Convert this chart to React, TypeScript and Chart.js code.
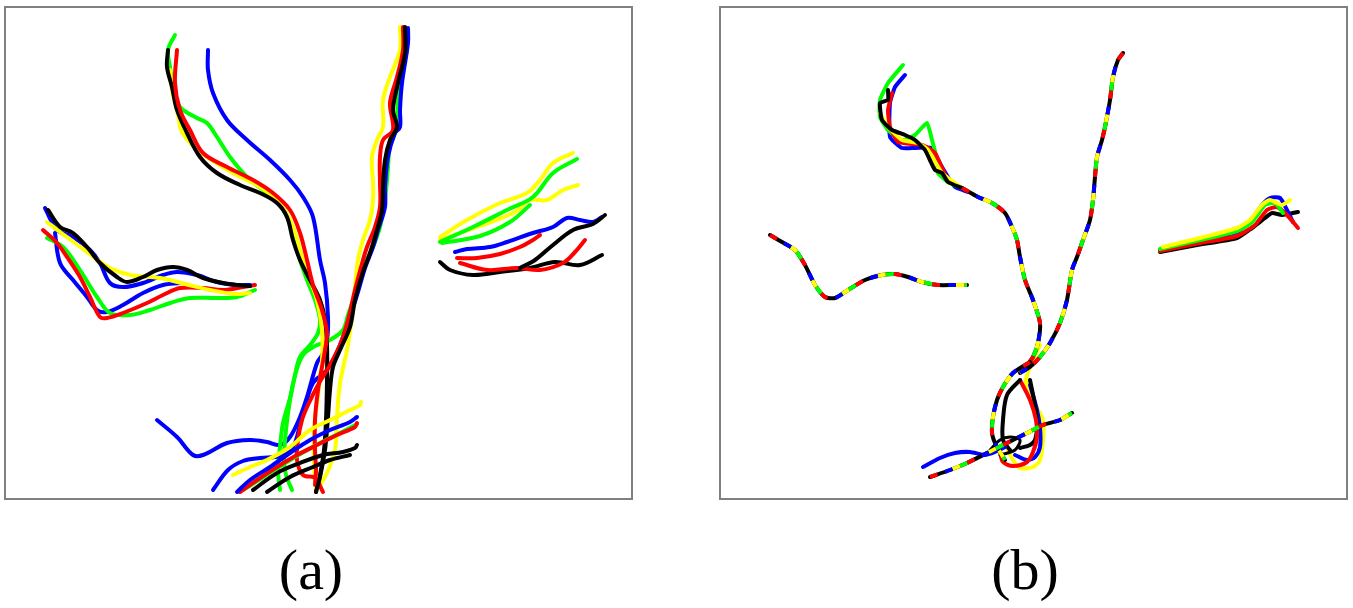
import React, { useEffect, useRef } from "react";
import { Chart, registerables } from "chart.js";
Chart.register(...registerables);

type P = [number, number];

// ---------- Panel (a): left group ----------
const aLeftBlack: P[] = [[48,210],[60,227],[73,233],[87,247],[100,263],[117,277],[127,282],[143,277],[157,270],[173,267],[187,270],[203,278],[223,283],[237,285],[250,286]];
const aLeftYellow: P[] = [[47,222],[60,232],[75,243],[95,258],[110,268],[130,275],[160,278],[185,284],[210,290],[235,294],[250,293]];
const aLeftBlueIn: P[] = [[45,208],[57,230],[73,237],[90,250],[100,263],[110,283],[123,287],[143,283],[163,275],[177,272],[197,275],[217,282],[237,285],[250,285]];
const aLeftBlueOut: P[] = [[55,233],[60,263],[73,280],[87,297],[97,310],[107,312],[123,305],[143,293],[163,285],[180,283]];
const aLeftRed: P[] = [[43,230],[57,243],[67,257],[80,277],[90,297],[100,317],[107,318],[123,313],[147,303],[163,295],[180,288],[203,288],[223,290],[243,287],[255,285]];
const aLeftGreen: P[] = [[47,238],[63,247],[80,270],[97,297],[110,313],[130,315],[150,310],[170,303],[190,298],[217,298],[237,297],[255,290]];

// ---------- Panel (a): top-right group ----------
const aTRYellow1: P[] = [[440,237],[467,220],[500,203],[527,193],[540,180],[553,163],[573,153]];
const aTRYellow2: P[] = [[440,240],[480,226],[515,212],[530,200],[547,200],[563,190],[578,185]];
const aTRGreen1: P[] = [[440,242],[473,227],[507,210],[533,197],[553,173],[577,159]];
const aTRGreen2: P[] = [[442,243],[480,236],[510,222],[530,205]];
const aTRBlue: P[] = [[455,252],[467,249],[490,247],[507,242],[533,233],[553,227],[567,218],[580,220],[593,222],[602,217]];
const aTRRed1: P[] = [[457,258],[477,258],[500,254],[520,247],[533,240],[540,235]];
const aTRRed2: P[] = [[460,263],[487,270],[517,268],[540,270],[563,263],[575,252],[585,240]];
const aTRBlack1: P[] = [[520,268],[535,260],[553,245],[573,230],[593,224],[605,215]];
const aTRBlack2: P[] = [[440,262],[450,270],[473,275],[500,272],[530,268],[555,262],[580,265],[602,255]];

// ---------- Panel (a): trunks ----------
const aTrunkGreenL: P[] = [[175,35],[168,50],[170,67],[173,87],[180,107],[197,118],[207,123],[217,137],[230,157],[247,177],[263,190],[277,200],[287,217],[293,233],[300,260],[307,280],[315,300],[320,320],[318,333],[310,345],[300,357],[295,375],[290,400],[286,430],[284,460],[286,475],[292,490]];
const aTrunkBlackL: P[] = [[168,50],[167,67],[172,87],[177,110],[187,133],[200,157],[217,173],[240,185],[260,193],[277,203],[287,217],[293,240],[300,260],[310,280],[320,300],[325,320],[327,345],[327,380],[326,420],[324,450],[320,475],[316,492]];
const aTrunkYellowL: P[] = [[170,70],[172,90],[178,115],[182,132],[195,148],[207,157],[233,173],[260,187],[280,203],[293,227],[303,260],[310,280],[317,300],[322,330],[322,360],[318,395],[314,430],[314,465],[316,488]];
const aTrunkRedL: P[] = [[177,50],[175,83],[180,110],[190,130],[203,153],[227,167],[253,180],[273,193],[290,210],[300,233],[307,260],[313,285],[322,310],[327,333],[325,350],[322,367],[318,390],[315,420],[315,450],[316,470],[315,485]];
const aTrunkBlueL: P[] = [[208,50],[208,70],[213,93],[227,120],[247,140],[270,160],[290,180],[303,197],[313,217],[320,260],[325,283],[328,317],[327,340],[322,355],[317,363],[307,397],[300,417],[290,437],[280,445],[267,442],[250,440],[227,443],[203,455],[193,455],[177,437],[157,420]];
const aTrunkYellowR: P[] = [[400,27],[400,50],[390,77],[383,100],[383,127],[377,140],[372,157],[373,183],[373,200],[370,220],[363,240],[358,260],[355,287],[353,310],[347,350],[340,383],[337,417],[335,450],[327,473],[317,490]];
const aTrunkRedR: P[] = [[403,27],[403,50],[397,77],[390,103],[393,130],[383,140],[380,157],[380,183],[380,207],[375,227],[367,247],[363,260],[355,290],[348,320],[340,345],[330,365],[318,385],[308,405],[302,420],[298,440],[297,460],[303,475],[315,478],[323,492]];
const aTrunkBlackR: P[] = [[405,27],[405,53],[398,83],[393,110],[397,127],[390,140],[385,160],[383,187],[382,210],[377,230],[370,253],[362,275],[355,300],[350,327],[340,350],[333,367],[330,390],[328,417],[325,450],[320,477],[316,492]];
const aTrunkBlueR: P[] = [[408,28],[408,43],[402,83],[400,110],[400,127],[395,133],[388,157],[385,187],[385,207],[378,230],[373,247],[365,268],[358,292],[350,317],[340,345],[327,370],[313,383],[305,407],[300,425],[293,447],[280,456],[260,458],[243,461],[228,470],[213,490]];
const aTrunkGreenR: P[] = [[407,50],[400,83],[395,133],[390,143],[388,167],[385,200],[380,227],[373,247],[367,260],[360,280],[355,295],[348,315],[343,330],[330,340],[315,346],[303,355],[296,372],[290,398],[283,423],[280,447],[278,470],[280,490]];

// ---------- Panel (a): bottom bundle ----------
const aBotYellow: P[] = [[233,475],[250,467],[267,460],[290,447],[310,430],[330,420],[350,410],[360,405],[361,402]];
const aBotBlue: P[] = [[237,492],[250,480],[270,467],[290,453],[310,440],[330,430],[350,422],[357,417]];
const aBotRed: P[] = [[240,492],[257,480],[277,467],[297,455],[317,445],[337,435],[355,427],[357,423]];
const aBotGreen: P[] = [[243,490],[262,478],[282,465],[302,453],[322,442],[342,432],[357,424]];
const aBotBlack1: P[] = [[253,490],[277,473],[300,463],[323,455],[343,452],[355,448],[357,445]];
const aBotBlack2: P[] = [[267,492],[290,477],[313,467],[330,460],[350,455]];

// ---------- Panel (b) ----------
const bLeftPath: P[] = [[770,235],[782,242],[795,250],[805,265],[815,285],[825,297],[835,298],[848,290],[865,280],[882,275],[895,274],[908,277],[922,282],[938,285],[955,285],[967,285]];
const bHookGreen: P[] = [[903,65],[888,83],[880,100],[880,117],[888,130],[902,140],[915,135],[927,123],[932,140],[937,160],[938,173],[948,182],[962,188]];
const bHookBlue: P[] = [[905,75],[895,87],[890,103],[890,137],[902,148],[915,148],[932,148],[938,160],[948,177],[955,187],[968,192]];
const bHookBlack: P[] = [[888,90],[888,100],[880,103],[882,120],[892,130],[905,135],[915,140],[925,150],[935,170],[942,173],[948,182],[962,188]];
const bHookRed: P[] = [[892,93],[888,110],[890,127],[898,142],[922,145],[935,153],[948,180],[962,188]];
const bHookYellow: P[] = [[880,113],[888,127],[902,140],[918,143],[928,150],[942,173],[962,188]];
const bBranchL: P[] = [[962,188],[978,197],[992,203],[1005,213],[1012,227],[1017,240],[1020,257],[1025,280],[1033,300],[1040,323],[1038,343],[1033,357],[1025,368]];
const bBranchR: P[] = [[1123,53],[1118,60],[1113,77],[1110,100],[1105,127],[1102,140],[1097,157],[1095,177],[1093,200],[1090,220],[1083,240],[1077,257],[1072,270],[1067,300],[1060,323],[1050,343],[1040,357],[1030,367],[1020,373]];
const bLoopLeft: P[] = [[1030,362],[1013,373],[1003,387],[997,400],[993,417],[992,433],[995,443],[1000,452],[1005,460]];
const bLoopYellow: P[] = [[1040,345],[1027,375],[1027,390],[1035,405],[1043,420],[1043,440],[1040,460],[1033,467],[1020,468],[1013,460],[1008,450]];
const bLoopRed: P[] = [[1020,380],[1030,400],[1036,420],[1037,437],[1033,452],[1027,462],[1013,466],[1003,462],[1000,452]];
const bLoopBlack: P[] = [[1020,380],[1007,395],[1003,420],[1003,440],[1010,450]];
const bLoopBlack2: P[] = [[1030,380],[1035,405],[1037,425],[1035,440],[1030,445],[1020,448]];
const bLoopBlue: P[] = [[1030,385],[1037,410],[1040,428],[1040,447],[1035,457],[1027,460],[1015,455]];
const bKnotBlack: P[] = [[990,450],[1000,440],[1010,437],[1020,440],[1015,450],[1000,455]];
const bDiag: P[] = [[930,477],[950,470],[967,463],[987,453],[1007,443],[1027,433],[1043,425],[1060,420],[1072,413]];
const bBlueUpper: P[] = [[923,467],[940,458],[955,453],[970,452],[985,455],[995,452],[1005,447]];
const bRightBlack: P[] = [[1160,252],[1197,245],[1237,238],[1252,228],[1265,218],[1272,213],[1282,215],[1298,212]];
const bRightBlue: P[] = [[1160,250],[1197,242],[1237,232],[1250,222],[1262,205],[1270,198],[1280,198],[1287,210],[1293,222]];
const bRightRed: P[] = [[1160,251],[1200,243],[1237,236],[1255,225],[1267,210],[1277,207],[1287,215],[1298,228]];
const bRightGreen: P[] = [[1160,249],[1200,240],[1237,231],[1252,222],[1265,205],[1275,203],[1283,213]];
const bRightYellow: P[] = [[1163,247],[1200,238],[1237,228],[1250,220],[1262,205],[1270,200],[1282,205],[1290,200]];

const BLUE = "#0000ff", RED = "#ff0000", GREEN = "#00ff00", YELLOW = "#ffff00", BLACK = "#000000";

function ds(data: P[], color: string, width = 4, extra: any = {}) {
  return {
    data: data.map(([x, y]) => ({ x, y })),
    showLine: true,
    borderColor: color,
    backgroundColor: color,
    borderWidth: width,
    pointRadius: 0,
    tension: 0.35,
    fill: false,
    borderCapStyle: "round",
    borderJoinStyle: "round",
    ...extra,
  };
}

// listed bottom -> top
function striped(data: P[], width = 4) {
  const dash = (c: string, off: number) =>
    ds(data, c, width, { tension: 0.25, borderDash: [8, 32], borderDashOffset: off, borderCapStyle: "butt" });
  return [
    ds(data, BLACK, width, { tension: 0.25 }),
    dash(RED, 0),
    dash(GREEN, 8),
    dash(YELLOW, 16),
    dash(BLUE, 24),
  ];
}

// listed bottom -> top
const panelADatasets = () => [
  ds(aLeftBlueOut, BLUE), ds(aLeftGreen, GREEN), ds(aLeftRed, RED), ds(aLeftBlueIn, BLUE), ds(aLeftYellow, YELLOW), ds(aLeftBlack, BLACK),
  ds(aTRYellow2, YELLOW), ds(aTRGreen2, GREEN), ds(aTRYellow1, YELLOW), ds(aTRGreen1, GREEN), ds(aTRBlue, BLUE), ds(aTRRed1, RED), ds(aTRBlack2, BLACK), ds(aTRRed2, RED), ds(aTRBlack1, BLACK),
  ds(aTrunkBlueL, BLUE), ds(aTrunkGreenL, GREEN), ds(aTrunkGreenR, GREEN), ds(aTrunkBlueR, BLUE), ds(aTrunkYellowL, YELLOW), ds(aTrunkBlackL, BLACK), ds(aTrunkRedL, RED),
  ds(aTrunkYellowR, YELLOW), ds(aTrunkRedR, RED), ds(aTrunkBlackR, BLACK),
  ds(aBotYellow, YELLOW), ds(aBotBlack2, BLACK), ds(aBotBlack1, BLACK), ds(aBotGreen, GREEN), ds(aBotRed, RED), ds(aBotBlue, BLUE),
];

const panelBDatasets = () => [
  ds(bHookBlue, BLUE, 4, { tension: 0.15 }), ds(bHookGreen, GREEN, 4, { tension: 0.15 }), ds(bHookRed, RED, 4, { tension: 0.15 }), ds(bHookYellow, YELLOW, 4, { tension: 0.15 }), ds(bHookBlack, BLACK, 4, { tension: 0.15 }),
  ds(bLoopYellow, YELLOW, 4, { tension: 0.3 }), ds(bLoopBlue, BLUE, 4, { tension: 0.3 }), ds(bLoopBlack2, BLACK, 4, { tension: 0.3 }), ds(bLoopRed, RED, 4, { tension: 0.3 }), ds(bLoopBlack, BLACK, 4, { tension: 0.3 }),
  ds(bBlueUpper, BLUE, 4, { tension: 0.2 }), ds(bKnotBlack, BLACK, 3, { tension: 0.3 }),
  ...striped(bLeftPath), ...striped(bBranchL), ...striped(bBranchR), ...striped(bLoopLeft), ...striped(bDiag),
  ds(bRightBlack, BLACK, 4, { tension: 0.2 }), ds(bRightBlue, BLUE, 4, { tension: 0.2 }), ds(bRightRed, RED, 4, { tension: 0.2 }), ds(bRightGreen, GREEN, 4, { tension: 0.2 }), ds(bRightYellow, YELLOW, 4, { tension: 0.2 }),
];

function Panel({ left, xMin, xMax, datasets }: { left: number; xMin: number; xMax: number; datasets: () => any[] }) {
  const ref = useRef<HTMLCanvasElement>(null);
  useEffect(() => {
    if (!ref.current) return;
    // Chart.js paints dataset 0 last (on top), so reverse the bottom->top list
    const list = datasets().slice().reverse();
    const chart = new Chart(ref.current, {
      type: "scatter",
      data: { datasets: list },
      options: {
        animation: false,
        responsive: false,
        devicePixelRatio: 1,
        layout: { padding: 0 },
        plugins: { legend: { display: false }, tooltip: { enabled: false } },
        scales: {
          x: { type: "linear", min: xMin, max: xMax, display: false },
          y: { type: "linear", min: 8, max: 498, reverse: true, display: false },
        },
        events: [],
      } as any,
    });
    return () => chart.destroy();
  }, []);
  return (
    <div style={{ position: "absolute", left, top: 6, width: 629, height: 494, border: "2px solid #808080", boxSizing: "border-box", background: "#fff" }}>
      <canvas ref={ref} width={625} height={490} style={{ display: "block", width: 625, height: 490 }} />
    </div>
  );
}

const labelStyle: React.CSSProperties = {
  position: "absolute",
  top: 541,
  fontFamily: "'Liberation Serif', 'DejaVu Serif', serif",
  fontSize: 58,
  lineHeight: "58px",
  color: "#000",
  transform: "translateX(-50%)",
  whiteSpace: "nowrap",
};

export default function App() {
  return (
    <div style={{ position: "fixed", left: 0, top: 0, width: 1353, height: 608, background: "#fff", overflow: "hidden" }}>
      <Panel left={4} xMin={6} xMax={631} datasets={panelADatasets} />
      <Panel left={719} xMin={721} xMax={1346} datasets={panelBDatasets} />
      <div style={{ ...labelStyle, left: 311 }}>(a)</div>
      <div style={{ ...labelStyle, left: 1025 }}>(b)</div>
    </div>
  );
}
